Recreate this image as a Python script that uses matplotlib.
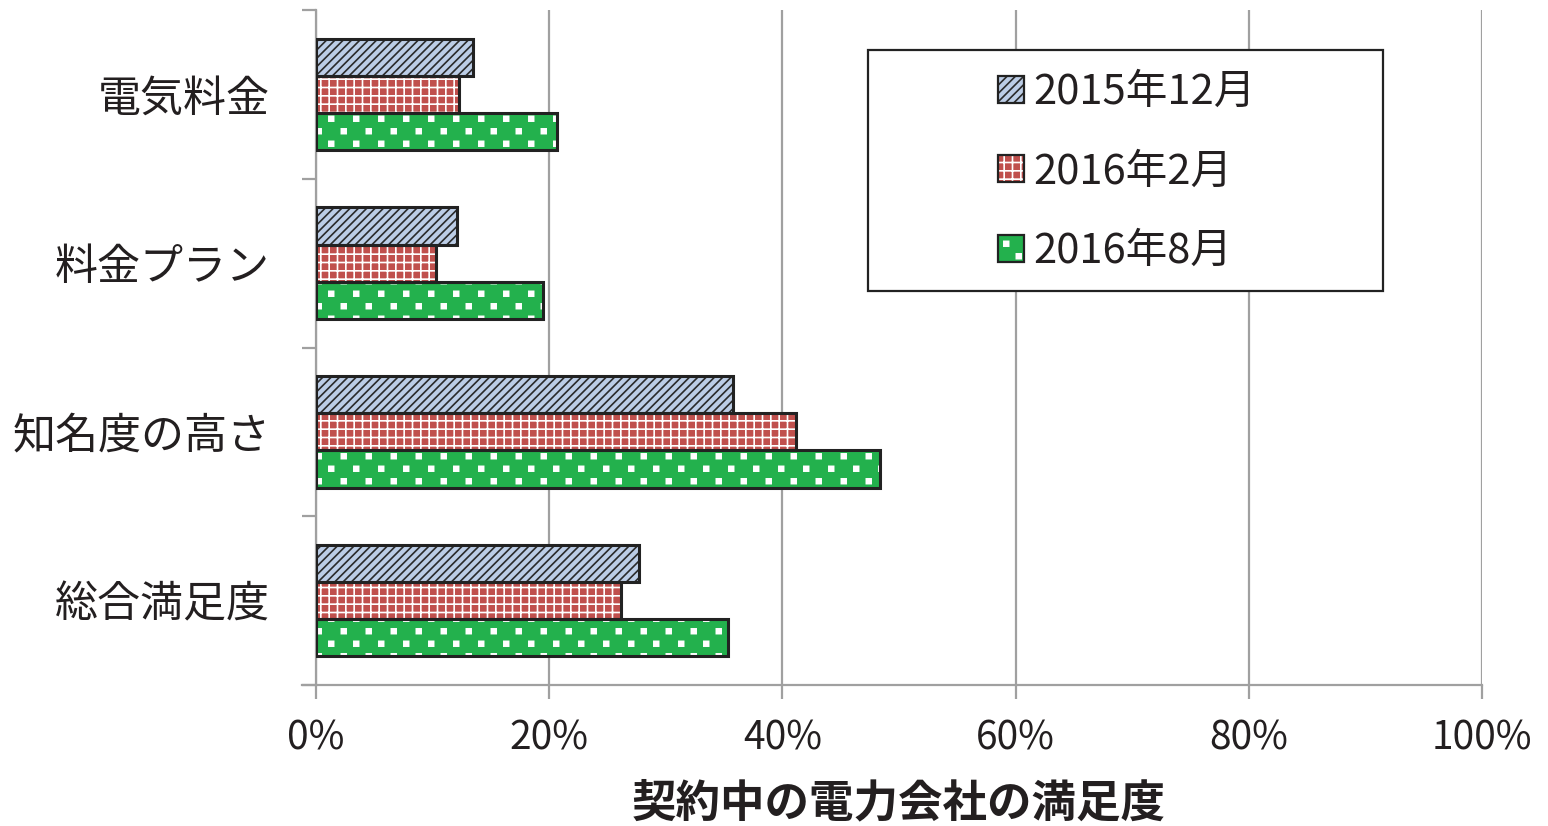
import matplotlib
matplotlib.use("Agg")
import matplotlib.pyplot as plt
from matplotlib import hatch as mhatch
from matplotlib.path import Path
from matplotlib.patches import Patch, Rectangle
from matplotlib.legend_handler import HandlerTuple
from matplotlib.ticker import FixedLocator, FuncFormatter
import numpy as np

plt.rcParams['font.family'] = ['Noto Sans CJK JP', 'DejaVu Sans']
plt.rcParams['hatch.linewidth'] = 1.2

categories = ['電気料金', '料金プラン', '知名度の高さ', '総合満足度']
series_names = ['2015年12月', '2016年2月', '2016年8月']
values = {
    '2015年12月': [13.5, 12.1, 35.8, 27.7],
    '2016年2月': [12.3, 10.3, 41.2, 26.2],
    '2016年8月': [20.7, 19.5, 48.4, 35.3],
}
x_ticks = [0, 20, 40, 60, 80, 100]


class SquareDots(mhatch.HatchPatternBase):
    """Staggered small filled squares, used for the '*' hatch symbol."""
    cols = 4
    rows = 8
    half = 0.024

    def __init__(self, hatch, density):
        self.on = hatch.count('*') > 0
        self.num_vertices = self.cols * self.rows * 5 if self.on else 0

    def set_vertices_and_codes(self, vertices, codes):
        h = self.half
        sq = np.array([[-h, -h], [h, -h], [h, h], [-h, h], [-h, -h]])
        sq_codes = [Path.MOVETO, Path.LINETO, Path.LINETO, Path.LINETO, Path.CLOSEPOLY]
        parts, cparts = [], []
        for r in range(self.rows):
            y = (r + 0.5) / self.rows
            shift = 0.0625 if r % 2 == 0 else 0.1875
            for c in range(self.cols):
                x = shift + c / self.cols
                parts.append(sq + [x, y])
                cparts.extend(sq_codes)
        vertices[:] = np.concatenate(parts)
        codes[:] = cparts


mhatch._hatch_types = [t for t in mhatch._hatch_types if t is not mhatch.Stars] + [SquareDots]

fills = ['#bccde6', '#c0504d', '#23b14d']
hatch_colors = ['#2a2a2a', 'white', 'white']
hatches = ['////', '++', '*']

fig = plt.figure(figsize=(15.48, 8.26), dpi=100)
ax = fig.add_axes([316 / 1548, 1 - 685 / 826, 1166 / 1548, 675 / 826])

bar_h = 0.22
y = np.arange(len(categories))
handles = []
for i, name in enumerate(series_names):
    pos = y + (i - 1) * bar_h
    ax.barh(pos, values[name], height=bar_h, color=fills[i],
            edgecolor=hatch_colors[i], hatch=hatches[i], linewidth=0, zorder=3)
    ax.barh(pos, values[name], height=bar_h, fill=False,
            edgecolor='#222222', linewidth=2.2, zorder=4)
    handles.append((Patch(facecolor=fills[i], edgecolor=hatch_colors[i],
                          hatch=hatches[i], linewidth=0),
                    Patch(fill=False, edgecolor='#222222', linewidth=1.6)))

ax.set_xlim(0, 100)
ax.set_ylim(3.5, -0.5)
ax.xaxis.set_major_locator(FixedLocator(x_ticks))
ax.xaxis.set_major_formatter(FuncFormatter(lambda v, p: f'{v:.0f}%'))
ax.set_yticks(y)
ax.set_yticklabels(categories)
ax.yaxis.set_minor_locator(FixedLocator(np.arange(-0.5, 4.0, 1.0)))

grid_c = '#a0a0a0'
ax.grid(axis='x', color=grid_c, linewidth=1.6, zorder=0)
for s in ['top', 'right']:
    ax.spines[s].set_visible(False)
for s in ['left', 'bottom']:
    ax.spines[s].set_color(grid_c)
    ax.spines[s].set_linewidth(1.6)
ax.spines['bottom'].set_bounds(-1.2, 100)

ax.tick_params(axis='y', which='major', length=0, pad=33, labelsize=31, labelcolor='#231f20')
ax.tick_params(axis='y', which='minor', length=10, width=1.6, color=grid_c, direction='out')
ax.tick_params(axis='x', which='major', length=10, width=1.6, color=grid_c, direction='out',
               pad=14, labelsize=28, labelcolor='#231f20')

ax.set_xlabel('契約中の電力会社の満足度', fontsize=32, fontweight='bold', color='#231f20', labelpad=16)

# legend frame drawn as a fixed box
fig.patches.append(Rectangle((868 / 1548, 1 - 291 / 826), 515 / 1548, 241 / 826,
                             transform=fig.transFigure, facecolor='white',
                             edgecolor='#222222', linewidth=1.6, zorder=5))
leg = fig.legend(handles, series_names, handler_map={tuple: HandlerTuple(ndivide=1)},
                 loc='center left', bbox_to_anchor=(998 / 1548, 1 - 172 / 826),
                 frameon=False, fontsize=30, handlelength=0.62, handleheight=0.62,
                 handletextpad=0.22, labelspacing=0.93, borderpad=0, borderaxespad=0,
                 labelcolor='#231f20')
leg.set_zorder(6)

fig.savefig('out.png', dpi=100)
